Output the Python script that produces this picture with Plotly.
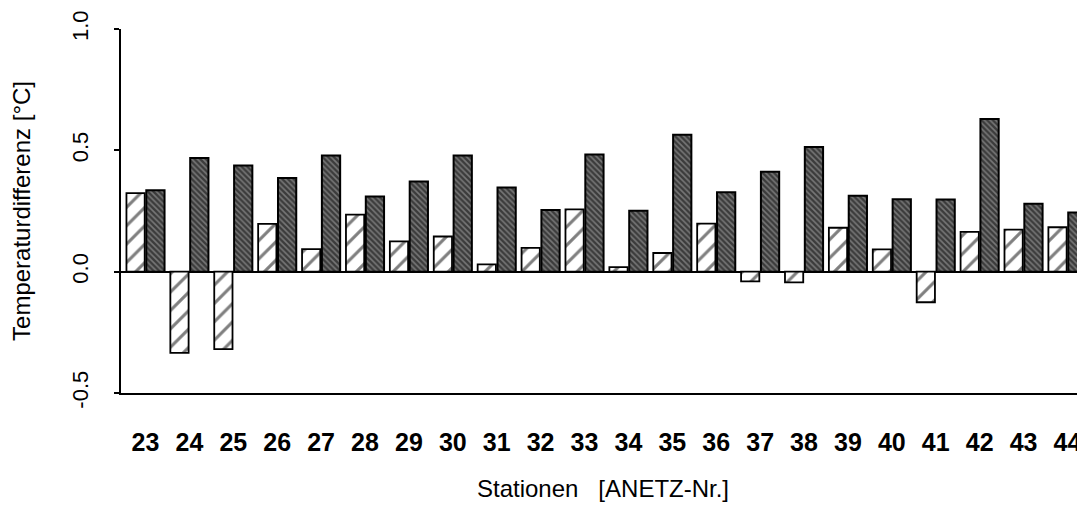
import plotly.graph_objects as go

stations = ["23", "24", "25", "26", "27", "28", "29", "30", "31", "32", "33",
            "34", "35", "36", "37", "38", "39", "40", "41", "42", "43", "44"]
light_values = [0.324, -0.335, -0.319, 0.197, 0.093, 0.235, 0.125, 0.145, 0.030, 0.098, 0.257,
                0.019, 0.077, 0.198, -0.040, -0.044, 0.181, 0.092, -0.126, 0.164, 0.173, 0.183]
dark_values = [0.335, 0.468, 0.437, 0.386, 0.479, 0.310, 0.372, 0.479, 0.347, 0.254, 0.483,
               0.251, 0.564, 0.327, 0.412, 0.514, 0.313, 0.298, 0.297, 0.629, 0.280, 0.244]
y_ticks = [-0.5, 0.0, 0.5, 1.0]
y_tick_labels = ["-0.5", "0.0", "0.5", "1.0"]

font_family = "Liberation Sans, Arial, sans-serif"

fig = go.Figure()
fig.add_trace(go.Bar(
    x=stations, y=light_values, name="light",
    marker=dict(color="white",
                line=dict(color="black", width=1.8),
                pattern=dict(shape="/", size=13, solidity=0.24,
                             fgcolor="black", bgcolor="white")),
))
fig.add_trace(go.Bar(
    x=stations, y=dark_values, name="dark",
    marker=dict(color="#333",
                line=dict(color="black", width=2),
                pattern=dict(shape="\\", size=4, solidity=0.6,
                             fgcolor="black", bgcolor="#777777")),
))

# The page body adds an 8px margin, so the figure is sized and offset to fit
fig.update_layout(
    width=1077, height=494,
    margin=dict(l=113, r=0, t=21, b=109),
    paper_bgcolor="white", plot_bgcolor="white",
    barmode="group", bargap=0.096, bargroupgap=0.08,
    showlegend=False,
    font=dict(family=font_family, color="black"),
)
fig.update_xaxes(
    type="category", range=[-0.558, 21.40],
    showline=True, linecolor="black", linewidth=2,
    showgrid=False, ticks="", zeroline=False,
    tickfont=dict(size=25, weight="bold", family=font_family),
    ticklabelstandoff=26,
    title=dict(text="Stationen\u00a0\u00a0\u00a0[ANETZ-Nr.]",
               font=dict(size=24, family=font_family), standoff=27),
    automargin=False,
)
fig.update_yaxes(
    range=[-0.5, 1.0], tickvals=y_ticks, ticktext=y_tick_labels,
    tickangle=-90, tickfont=dict(size=22, family=font_family),
    ticks="outside", ticklen=5, tickcolor="black", tickwidth=1.5,
    ticklabelstandoff=17,
    showline=True, linecolor="black", linewidth=1.5,
    showgrid=False,
    zeroline=True, zerolinecolor="black", zerolinewidth=2,
    title=dict(text="Temperaturdifferenz [°C]",
               font=dict(size=24, family=font_family), standoff=38),
    automargin=False,
)

fig.write_html("out.html")
